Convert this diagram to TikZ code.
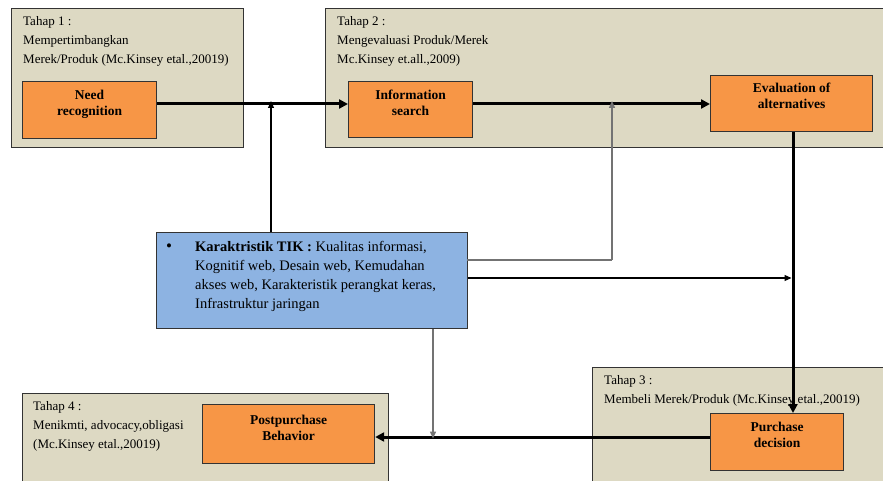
\documentclass[tikz,border=0pt]{standalone}
\usepackage{fontspec}
\setmainfont{Liberation Serif}
\usetikzlibrary{arrows.meta}
\definecolor{tanbg}{HTML}{DDD9C3}
\definecolor{orangebox}{HTML}{F79646}
\definecolor{bluebox}{HTML}{8DB3E2}
\definecolor{edge}{HTML}{333333}
\begin{document}
\begin{tikzpicture}[x=1pt,y=-1pt,
  stage/.style={draw=edge, fill=tanbg, line width=1pt, anchor=north west, inner sep=0pt},
  stagetext/.style={anchor=north west, align=left, inner sep=0pt, font=\fontsize{13}{19}\selectfont},
  stepbox/.style={draw=edge, fill=orangebox, line width=1.2pt, anchor=north west, inner sep=0pt},
  steplabel/.style={anchor=north, align=center, inner sep=0pt, font=\fontsize{13.5}{15.5}\selectfont\bfseries},
  thickarrow/.style={line width=3pt, -{Triangle[length=9pt,width=9pt]}},
  thinarrow/.style={line width=1.1pt, -{Triangle[length=7pt,width=6pt]}},
  grayarrow/.style={draw=black!55, line width=1.4pt, -{Triangle[length=7pt,width=6pt]}, color=black!55},
  grayline/.style={draw=black!55, line width=1.4pt}
]
\useasboundingbox[fill=white] (0,0) rectangle (883,481);

% stage boxes
\node[stage, minimum width=232, minimum height=139] (t1) at (11,8) {};
\node[stage, minimum width=570, minimum height=139] (t2) at (325,8) {};
\node[stage, minimum width=300, minimum height=120] (t3) at (592,367) {};
\node[stage, minimum width=366, minimum height=100] (t4) at (22,393) {};

\node[stagetext] (t1txt) at (23,16) {Tahap 1 :\\Mempertimbangkan\\Merek/Produk (Mc.Kinsey etal.,20019)};
\node[stagetext] (t2txt) at (337,16) {Tahap 2 :\\Mengevaluasi Produk/Merek\\Mc.Kinsey et.all.,2009)};
\node[stagetext] (t3txt) at (604,375) {Tahap 3 :\\Membeli Merek/Produk (Mc.Kinsey etal.,20019)};
\node[stagetext] (t4txt) at (33,401) {Tahap 4 :\\Menikmti, advocacy,obligasi\\(Mc.Kinsey etal.,20019)};

% step boxes
\node[stepbox, minimum width=134, minimum height=57,
  label={[steplabel, yshift=-9]north:Need\\recognition}] (need) at (22,81) {};
\node[stepbox, minimum width=124, minimum height=56,
  label={[steplabel, yshift=-9]north:Information\\search}] (info) at (348,81) {};
\node[stepbox, minimum width=162, minimum height=56,
  label={[steplabel, yshift=-8]north:Evaluation of\\alternatives}] (eval) at (710,75) {};
\node[stepbox, minimum width=133, minimum height=57,
  label={[steplabel, yshift=-9]north:Purchase\\decision}] (purch) at (710,413) {};
\node[stepbox, minimum width=172, minimum height=59,
  label={[steplabel, yshift=-11]north:Postpurchase\\Behavior}] (post) at (202,404) {};

% TIK box
\node[draw=edge, fill=bluebox, line width=1.2pt, anchor=north west, inner sep=0pt,
  minimum width=311, minimum height=96] (tik) at (156,232) {};
\node[anchor=base west, inner sep=0pt] (bullet) at (166,251) {\fontsize{17}{19}\selectfont\textbullet};
\node[anchor=north west, inner sep=0pt, align=left, font=\fontsize{14.5}{19}\selectfont] (tiktxt) at (195,241)
  {\textbf{Karaktristik TIK :} Kualitas informasi,\\Kognitif web, Desain web, Kemudahan\\akses web, Karakteristik perangkat keras,\\Infrastruktur jaringan};

% junction coordinates
\coordinate (j1) at (271,104);
\coordinate (j2) at (612,104);
\coordinate (j3) at (793,278);
\coordinate (j4) at (433,437);
\coordinate (g1) at (467,260);

% connectors
\draw[thickarrow] (need.east |- j1) -- (info.west |- j1);
\draw[thickarrow] (info.east |- j1) -- (eval.west |- j1);
\draw[thinarrow] (tik.north -| j1) -- ([yshift=3]j1);
\draw[grayline] (g1) -- (g1 -| j2);
\draw[grayarrow] (g1 -| j2) -- ([yshift=3]j2);
\draw[thinarrow] (tik.east |- j3) -- ([xshift=-1.5]j3);
\draw[thickarrow] (j3 |- eval.south) -- (j3 |- purch.north);
\draw[thickarrow] (purch.west |- j4) -- (post.east |- j4);
\draw[grayarrow] (tik.south -| j4) -- ([yshift=-1.5]j4);
\end{tikzpicture}
\end{document}
